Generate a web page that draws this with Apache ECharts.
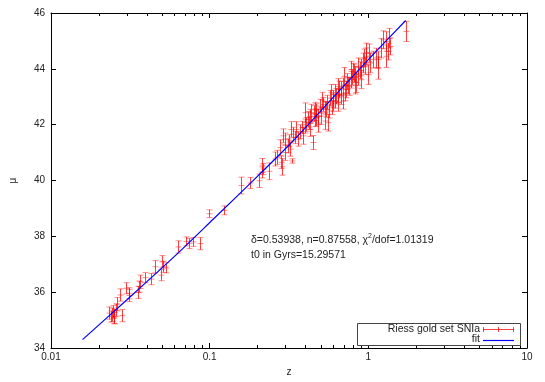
<!DOCTYPE html>
<html>
<head>
  <meta charset="UTF-8">
  <title>Riess gold set SNIa</title>
  <script src="https://cdn.jsdelivr.net/npm/echarts@6.0.0/dist/echarts.min.js"></script>
  <style>
    html, body { margin: 0; padding: 0; background: #fff; }
  </style>
</head>
<body>
  <div id="main" style="width: 545px; height: 382px;"></div>
  <script>
    // redshift, distance modulus, error
    const zVals = [
      0.0233, 0.0239, 0.0242, 0.0245, 0.0248, 0.0251, 0.0257, 0.0260, 0.0272, 0.0280,
      0.0296, 0.0308, 0.0310, 0.0351, 0.0358, 0.0365, 0.0392, 0.0425, 0.0452, 0.0491,
      0.0503, 0.0510, 0.0532, 0.0633, 0.0710, 0.0745, 0.0782, 0.0866, 0.0994, 0.1234,
      0.1577, 0.1796, 0.2056, 0.2126, 0.2137, 0.2167, 0.236, 0.258, 0.2638, 0.2767,
      0.2836, 0.2877, 0.2905, 0.2973, 0.3004, 0.3124, 0.315, 0.319, 0.3277, 0.331,
      0.335, 0.3436, 0.352, 0.3608, 0.37, 0.38, 0.3879, 0.3969, 0.40, 0.4068,
      0.4157, 0.42, 0.4266, 0.43, 0.437, 0.4479, 0.452, 0.4583, 0.46, 0.4697,
      0.47, 0.4815, 0.485, 0.4928, 0.5048, 0.51, 0.5174, 0.5295, 0.53, 0.5427,
      0.55, 0.5561, 0.569, 0.57, 0.5832, 0.592, 0.5976, 0.60, 0.6145, 0.62,
      0.6269, 0.64, 0.6425, 0.645, 0.6574, 0.67, 0.6737, 0.6902, 0.695, 0.7065,
      0.71, 0.724, 0.73, 0.74, 0.7591, 0.775, 0.778, 0.79, 0.80, 0.816,
      0.82, 0.83, 0.8365, 0.857, 0.86, 0.88, 0.8989, 0.905, 0.9211, 0.9426,
      0.95, 0.966, 0.97, 0.99, 1.013, 1.02, 1.064, 1.116, 1.143, 1.15,
      1.199, 1.229, 1.289, 1.30, 1.321, 1.352, 1.36, 1.72
    ];
    const muVals = [
      35.25, 35.13, 35.19, 35.30, 35.07, 35.13, 35.36, 35.57, 35.90, 35.16,
      36.14, 35.88, 35.96, 35.99, 36.20, 36.37, 36.52, 36.47, 36.91, 36.61,
      37.09, 36.91, 36.87, 37.62, 37.82, 37.74, 37.80, 37.74, 38.81, 38.93,
      39.82, 39.91, 39.99, 40.29, 40.55, 40.41, 40.33, 40.77, 40.83, 41.18,
      40.65, 40.49, 41.60, 41.48, 41.00, 41.24, 41.42, 41.12, 41.83, 40.70,
      41.66, 41.54, 41.83, 41.48, 41.75, 41.90, 41.60, 42.43, 41.95, 42.01,
      42.19, 42.05, 41.83, 42.30, 42.43, 41.36, 42.40, 42.55, 42.15, 42.25,
      42.50, 42.01, 42.31, 42.66, 42.31, 42.88, 42.72, 42.13, 42.60, 42.55,
      42.80, 42.07, 42.49, 42.95, 43.14, 42.61, 42.78, 42.95, 42.84, 43.14,
      43.02, 43.05, 42.78, 43.37, 43.26, 43.30, 43.02, 42.84, 43.37, 43.73,
      43.14, 43.26, 43.55, 43.40, 43.37, 43.61, 43.97, 43.70, 43.90, 43.85,
      43.40, 43.80, 43.50, 44.09, 43.73, 43.95, 43.61, 44.05, 44.21, 44.39,
      44.10, 44.57, 44.45, 43.79, 44.57, 44.21, 44.33, 44.39, 44.33, 44.03,
      44.74, 45.04, 44.98, 44.45, 44.62, 45.10, 44.80, 45.34
    ];
    const muErr = [
      0.22, 0.20, 0.24, 0.22, 0.20, 0.26, 0.22, 0.24, 0.22, 0.22,
      0.20, 0.22, 0.20, 0.22, 0.20, 0.24, 0.18, 0.20, 0.22, 0.20,
      0.22, 0.20, 0.18, 0.22, 0.16, 0.18, 0.16, 0.22, 0.14, 0.16,
      0.30, 0.20, 0.24, 0.20, 0.24, 0.20, 0.30, 0.25, 0.25, 0.28,
      0.22, 0.30, 0.25, 0.22, 0.28, 0.25, 0.22, 0.25, 0.28, 0.08,
      0.25, 0.22, 0.28, 0.25, 0.25, 0.22, 0.30, 0.35, 0.25, 0.25,
      0.28, 0.22, 0.25, 0.25, 0.30, 0.25, 0.28, 0.25, 0.22, 0.30,
      0.25, 0.28, 0.25, 0.25, 0.30, 0.28, 0.25, 0.30, 0.22, 0.28,
      0.25, 0.30, 0.25, 0.28, 0.30, 0.25, 0.30, 0.28, 0.25, 0.30,
      0.28, 0.25, 0.30, 0.28, 0.30, 0.25, 0.30, 0.28, 0.30, 0.32,
      0.28, 0.30, 0.28, 0.30, 0.32, 0.30, 0.30, 0.28, 0.30, 0.32,
      0.30, 0.28, 0.35, 0.30, 0.32, 0.30, 0.32, 0.30, 0.35, 0.32,
      0.30, 0.35, 0.30, 0.35, 0.32, 0.35, 0.30, 0.35, 0.30, 0.40,
      0.35, 0.32, 0.35, 0.40, 0.30, 0.35, 0.30, 0.36
    ];

    // fitted curve, sampled off the blue line
    const fitZ = [0.0158, 0.03, 0.06, 0.106, 0.2, 0.328, 0.583, 1.0, 1.143, 1.72];
    const fitMu = [34.30, 35.72, 37.28, 38.63, 40.15, 41.36, 42.90, 44.33, 44.68, 45.73];

    const xTicks = [0.01, 0.1, 1, 10];
    const xMinorTicks = [0.02, 0.03, 0.04, 0.05, 0.06, 0.07, 0.08, 0.09,
                         0.2, 0.3, 0.4, 0.5, 0.6, 0.7, 0.8, 0.9,
                         2, 3, 4, 5, 6, 7, 8, 9];

    const FONT = 'Liberation Sans';
    const chart = echarts.init(document.getElementById('main'), null, { renderer: 'canvas' });

    const points = zVals.map((z, i) => [z, muVals[i], muErr[i]]);

    const frameAxis = {
      axisLine: { show: true, lineStyle: { color: '#000', width: 1 } },
      axisTick: { show: true, inside: true, length: 5, lineStyle: { color: '#000' } },
      splitLine: { show: false }
    };

    const RED = 'rgba(255,0,0,0.75)';

    const option = {
      animation: false,
      backgroundColor: '#fff',
      textStyle: { fontFamily: FONT },
      grid: { left: 48, right: 18, top: 13, bottom: 32 },
      xAxis: [
        Object.assign({
          type: 'log', logBase: 10, min: 0.01, max: 10, position: 'bottom',
          name: 'z', nameLocation: 'middle', nameGap: 19,
          nameTextStyle: { color: '#222', fontSize: 10, fontFamily: FONT },
          axisLabel: { color: '#222', fontSize: 10, fontFamily: FONT, margin: 4,
            formatter: v => xTicks.indexOf(v) >= 0 ? String(v) : '' }
        }, frameAxis),
        Object.assign({
          type: 'log', logBase: 10, min: 0.01, max: 10, position: 'top',
          axisLabel: { show: false }
        }, frameAxis)
      ],
      yAxis: [
        Object.assign({
          type: 'value', min: 34, max: 46, interval: 2, position: 'left',
          name: 'μ', nameLocation: 'middle', nameGap: 33, nameRotate: 90,
          nameTextStyle: { color: '#222', fontSize: 10, fontFamily: FONT },
          axisLabel: { color: '#222', fontSize: 10, fontFamily: FONT, margin: 6 }
        }, frameAxis),
        Object.assign({
          type: 'value', min: 34, max: 46, interval: 2, position: 'right',
          axisLabel: { show: false }
        }, frameAxis)
      ],
      series: [
        {
          // minor log ticks on bottom and top edges
          type: 'custom',
          silent: true,
          data: xMinorTicks.map(v => [v, 34]),
          encode: { x: 0, y: 1 },
          renderItem: function (params, api) {
            const b = api.coord([api.value(0), 34]);
            const t = api.coord([api.value(0), 46]);
            const x = Math.round(b[0]) + 0.5;
            return {
              type: 'group',
              children: [
                { type: 'line', shape: { x1: x, y1: b[1], x2: x, y2: b[1] - 3 },
                  style: { stroke: '#000', lineWidth: 1 } },
                { type: 'line', shape: { x1: x, y1: t[1], x2: x, y2: t[1] + 3 },
                  style: { stroke: '#000', lineWidth: 1 } }
              ]
            };
          }
        },
        {
          name: 'Riess gold set SNIa',
          type: 'custom',
          data: points,
          encode: { x: 0, y: 1 },
          renderItem: function (params, api) {
            const z = api.value(0), m = api.value(1), e = api.value(2);
            const c = api.coord([z, m]);
            const lo = api.coord([z, m - e]);
            const hi = api.coord([z, m + e]);
            const x = Math.round(c[0]) + 0.5;
            const cap = 3;
            const capStyle = { stroke: 'rgba(255,0,0,0.45)', lineWidth: 1 };
            return {
              type: 'group',
              children: [
                { type: 'line', shape: { x1: x, y1: lo[1], x2: x, y2: hi[1] },
                  style: { stroke: RED, lineWidth: 1 } },
                { type: 'line', shape: { x1: x - cap, y1: lo[1], x2: x + cap, y2: lo[1] }, style: capStyle },
                { type: 'line', shape: { x1: x - cap, y1: hi[1], x2: x + cap, y2: hi[1] }, style: capStyle },
                { type: 'line', shape: { x1: x - cap, y1: c[1], x2: x + cap, y2: c[1] }, style: capStyle }
              ]
            };
          }
        },
        {
          name: 'fit',
          type: 'line',
          data: fitZ.map((z, i) => [z, fitMu[i]]),
          showSymbol: false,
          smooth: 0.3,
          lineStyle: { color: '#0000ff', width: 1.2 },
          itemStyle: { color: '#0000ff' }
        }
      ],
      graphic: [
        {
          type: 'text', left: 251, top: 233,
          style: {
            text: '{t|δ=0.53938, n=0.87558, χ}{s|2}{t|/dof=1.01319}\n{t|t0 in Gyrs=15.29571}',
            rich: {
              t: { fontSize: 10.5, fontFamily: FONT, fill: '#222', lineHeight: 15 },
              s: { fontSize: 7, fontFamily: FONT, fill: '#222', padding: [0, 0, 7, 0] }
            }
          }
        },
        // legend box
        { type: 'rect', z: 10, shape: { x: 357.5, y: 323.5, width: 163, height: 22 },
          style: { fill: '#fff', stroke: '#444', lineWidth: 1 } },
        { type: 'text', z: 11, x: 480, y: 329,
          style: { text: 'Riess gold set SNIa', fontSize: 10.5, fontFamily: FONT, fill: '#222',
                   align: 'right', verticalAlign: 'middle' } },
        { type: 'text', z: 11, x: 480, y: 339.5,
          style: { text: 'fit', fontSize: 10.5, fontFamily: FONT, fill: '#222',
                   align: 'right', verticalAlign: 'middle' } },
        { type: 'line', z: 11, shape: { x1: 483, y1: 329.5, x2: 514, y2: 329.5 }, style: { stroke: RED, lineWidth: 1 } },
        { type: 'line', z: 11, shape: { x1: 483.5, y1: 327, x2: 483.5, y2: 332 }, style: { stroke: RED, lineWidth: 1 } },
        { type: 'line', z: 11, shape: { x1: 498.5, y1: 327, x2: 498.5, y2: 332 }, style: { stroke: RED, lineWidth: 1 } },
        { type: 'line', z: 11, shape: { x1: 513.5, y1: 327, x2: 513.5, y2: 332 }, style: { stroke: RED, lineWidth: 1 } },
        { type: 'line', z: 11, shape: { x1: 483, y1: 340.5, x2: 514, y2: 340.5 }, style: { stroke: '#0000ff', lineWidth: 1.2 } }
      ]
    };
    chart.setOption(option);
  </script>
</body>
</html>
